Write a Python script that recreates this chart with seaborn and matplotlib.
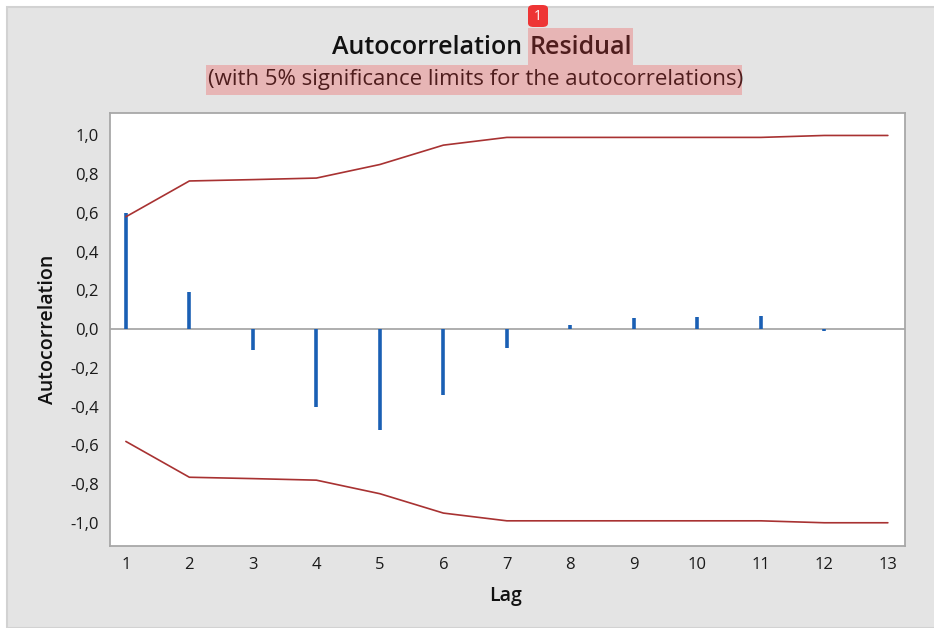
import matplotlib
matplotlib.use("Agg")
import matplotlib.pyplot as plt
from matplotlib.patches import Rectangle, FancyBboxPatch
import numpy as np
import pandas as pd
import seaborn as sns

# values
lags = [1, 2, 3, 4, 5, 6, 7, 8, 9, 10, 11, 12]
acf = [0.60, 0.19, -0.11, -0.40, -0.52, -0.34, -0.10, 0.02, 0.055, 0.06, 0.07, -0.01]
limit_lags = [1, 2, 3, 4, 5, 6, 7, 8, 9, 10, 11, 12, 13]
upper_limit = [0.58, 0.765, 0.772, 0.78, 0.85, 0.95, 0.99, 0.99, 0.99, 0.99, 0.99, 1.0, 1.0]
y_ticks = [-1.0, -0.8, -0.6, -0.4, -0.2, 0.0, 0.2, 0.4, 0.6, 0.8, 1.0]

sns.set_style("white")
plt.rcParams['font.family'] = ['Open Sans', 'DejaVu Sans']

W, H = 934, 628
fig = plt.figure(figsize=(W / 100, H / 100), dpi=100, facecolor='white')


def fx(px):
    return px / W


def fy(py):
    return 1 - py / H


# gray panel behind everything
fig.patches.append(Rectangle((fx(7), 0), 1, fy(7), transform=fig.transFigure,
                             facecolor='#e4e4e4', edgecolor='#d2d2d2', linewidth=1.5, zorder=-5))

ax = fig.add_axes([fx(110), fy(546), fx(905) - fx(110), fy(113) - fy(546)])
ax.set_facecolor('white')

lim_df = pd.DataFrame({'Lag': limit_lags + limit_lags,
                       'value': upper_limit + [-v for v in upper_limit],
                       'side': ['upper'] * len(limit_lags) + ['lower'] * len(limit_lags)})
sns.lineplot(data=lim_df, x='Lag', y='value', units='side', estimator=None,
             color='#a83232', linewidth=1.2, ax=ax, zorder=3)
ax.axhline(0, color='#a8a8a8', linewidth=1.3, zorder=1)
ax.vlines(lags, 0, acf, color='#1a5fb4', linewidth=2.6, zorder=2)

ax.set_xlim(0.75, 13.27)
ax.set_ylim(-1.12, 1.116)
ax.set_xticks(limit_lags)
ax.set_xticklabels([str(v) for v in limit_lags])
ax.set_yticks(y_ticks)
ax.set_yticklabels([f"{v:.1f}".replace('.', ',') for v in y_ticks])
ax.tick_params(axis='both', direction='out', length=5, width=1, color='#9a9a9a',
               labelsize=12, labelcolor='#1a1a1a', pad=3)
for s in ax.spines.values():
    s.set_color('#a8a8a8')
    s.set_linewidth(1.3)
ax.set_xlabel('')
ax.set_ylabel('')

fig.text(fx(48), fy(329), 'Autocorrelation', rotation=90, ha='center', va='center',
         fontsize=14, fontweight='semibold', color='#111111')
fig.text(fx(506), fy(596), 'Lag', ha='center', va='center',
         fontsize=14, fontweight='semibold', color='#111111')

# title with highlighted word
fig.text(fx(522), fy(47), 'Autocorrelation', ha='right', va='center',
         fontsize=18, fontweight='semibold', color='#111111')
fig.text(fx(530), fy(47), 'Residual', ha='left', va='center',
         fontsize=18, fontweight='semibold', color='#111111')
fig.text(fx(476), fy(80), '(with 5% significance limits for the autocorrelations)',
         ha='center', va='center', fontsize=16, color='#111111')

hl = dict(transform=fig.transFigure, facecolor=(0.94, 0.24, 0.24), alpha=0.28,
          edgecolor='none', zorder=10)
fig.patches.append(Rectangle((fx(528), fy(65)), fx(633) - fx(528), fy(28) - fy(65), **hl))
fig.patches.append(Rectangle((fx(206), fy(95)), fx(742) - fx(206), fy(65) - fy(95), **hl))

# badge
fig.patches.append(FancyBboxPatch((fx(528), fy(27)), fx(20), fy(5) - fy(27),
                                  boxstyle='round,pad=0,rounding_size=0.006',
                                  transform=fig.transFigure, facecolor='#ee3535',
                                  edgecolor='none', zorder=11))
fig.text(fx(538), fy(16), '1', ha='center', va='center', fontsize=10,
         color='white', zorder=12)

fig.savefig('out.png', dpi=100, facecolor=fig.get_facecolor())
